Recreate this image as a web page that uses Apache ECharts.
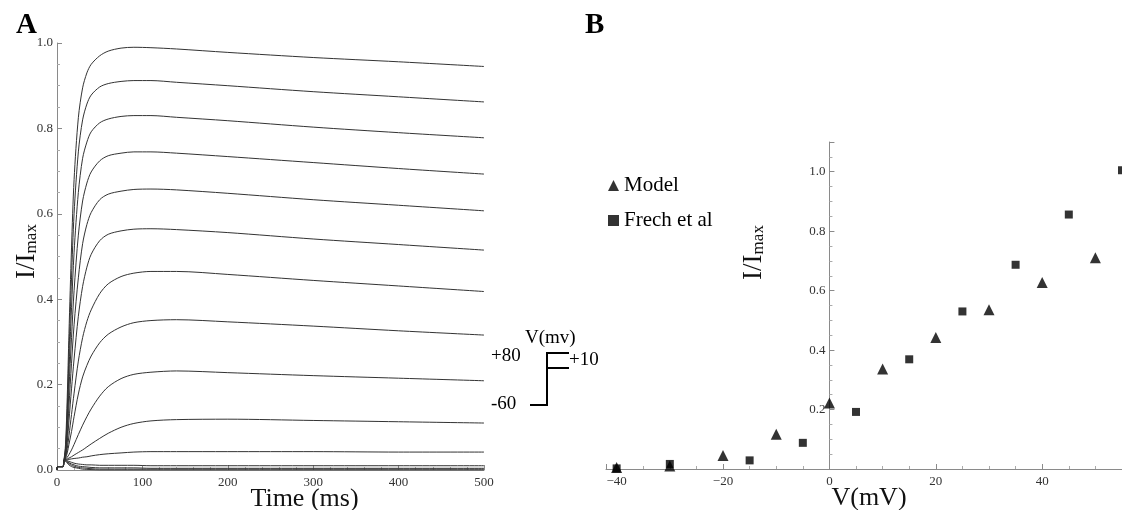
<!DOCTYPE html>
<html>
<head>
<meta charset="utf-8">
<title>Ca current traces and I–V relation</title>
<script src="https://cdn.jsdelivr.net/npm/echarts@6/dist/echarts.min.js"></script>
<style>
  html, body { margin: 0; padding: 0; background: #fff; }
  #chart { width: 1122px; height: 510px; }
</style>
</head>
<body>
<div id="chart"></div>
<script>
// ---- Panel A: normalised current traces, one per voltage step ----
const TIME_MS = [0, 1, 7, 8, 10, 12, 14, 17, 20, 25, 30, 35, 40, 50, 60, 75, 90, 110, 140, 200, 300, 400, 500];

const trace1  = [0, .008, .008, .02, .06, .17, .32, .52, .68, .825, .895, .93, .95, .97, .981, .988, .99, .989, .986, .978, .966, .956, .945];
const trace2  = [0, .008, .008, .02, .05, .14, .27, .45, .60, .745, .82, .857, .878, .897, .905, .91, .912, .912, .908, .90, .886, .874, .862];
const trace3  = [0, .008, .008, .02, .045, .12, .23, .38, .51, .65, .73, .768, .792, .813, .822, .828, .83, .83, .826, .818, .803, .79, .778];
const trace4  = [0, .008, .008, .02, .04, .10, .19, .31, .42, .55, .63, .672, .698, .724, .736, .742, .745, .745, .742, .734, .72, .706, .693];
const trace5  = [0, .008, .008, .02, .035, .08, .15, .25, .34, .45, .53, .575, .603, .633, .646, .653, .657, .658, .656, .648, .633, .62, .607];
const trace6  = [0, .008, .008, .02, .032, .065, .115, .19, .26, .36, .43, .475, .505, .537, .552, .56, .564, .565, .563, .556, .541, .528, .515];
const trace7  = [0, .008, .008, .02, .03, .05, .08, .13, .18, .255, .31, .348, .375, .413, .436, .453, .461, .465, .465, .458, .444, .431, .418];
const trace8  = [0, .008, .008, .02, .028, .04, .06, .09, .125, .178, .218, .245, .267, .298, .318, .335, .345, .35, .352, .347, .337, .326, .316];
const trace9  = [0, .008, .008, .02, .026, .03, .036, .047, .06, .083, .105, .125, .143, .173, .195, .214, .224, .229, .232, .228, .221, .215, .209];
const trace10 = [0, .008, .008, .02, .025, .026, .028, .031, .035, .041, .047, .054, .061, .074, .086, .10, .109, .115, .118, .119, .116, .113, .11];
const trace11 = [0, .008, .008, .02, .024, .024, .025, .026, .027, .028, .03, .031, .033, .036, .038, .04, .042, .043, .043, .043, .043, .042, .042];
const trace12 = [0, .008, .008, .02, .024, .022, .02, .018, .016, .014, .013, .012, .012, .011, .011, .011, .011, .01, .01, .01, .01, .01, .01];
const trace13 = [0, .008, .008, .02, .023, .02, .017, .014, .012, .009, .008, .007, .006, .005, .005, .005, .005, .004, .004, .004, .004, .004, .004];
const trace14 = [0, .008, .008, .02, .022, .018, .015, .011, .009, .006, .005, .004, .003, .002, .002, .002, .002, .002, .002, .002, .002, .002, .002];
const trace15 = [0, .008, .008, .02, .02, .016, .012, .008, .006, .004, .002, .0015, .001, 0, 0, 0, 0, 0, 0, 0, 0, 0, 0];

const TRACES = [trace1, trace2, trace3, trace4, trace5, trace6, trace7, trace8,
                trace9, trace10, trace11, trace12, trace13, trace14, trace15];

// ---- Panel B: peak current vs. test potential ----
const MODEL_V = [-40, -30, -20, -10, 0, 10, 20, 30, 40, 50];
const MODEL_I = [0.005, 0.01, 0.045, 0.117, 0.222, 0.336, 0.442, 0.536, 0.627, 0.711];
const FRECH_V = [-40, -30, -15, -5, 5, 15, 25, 35, 45, 55];
const FRECH_I = [0.002, 0.017, 0.029, 0.088, 0.192, 0.369, 0.53, 0.687, 0.856, 1.005];

const V_MIN = -42, V_MAX = 55;

const SERIF = 'Liberation Serif';
const AXIS_GREY = '#8a8a8a';

// grid boxes (pixels)
const GRID_A = { left: 57, top: 43, width: 427, height: 427 };
const GRID_B = { left: 606, top: 142, width: 516, height: 327 };

function zip(xs, ys) { return xs.map((x, i) => [x, ys[i]]); }
function signed(v) { return v < 0 ? '\u2212' + (-v) : String(v); }

function axisCommon() {
  return {
    type: 'value',
    splitLine: { show: false },
    nameMoveOverlap: false,
    axisLine: { show: true, onZero: false, lineStyle: { color: AXIS_GREY, width: 1 } },
    axisTick: { show: true, inside: true, length: 5, lineStyle: { color: AXIS_GREY } },
    minorTick: { show: true, length: 3, lineStyle: { color: '#aaa' } },
    axisLabel: { fontFamily: SERIF, fontSize: 13, color: '#333' }
  };
}

const yNameRich = {
  a: { fontFamily: SERIF, fontSize: 27, lineHeight: 30, verticalAlign: 'bottom', color: '#111' },
  b: { fontFamily: SERIF, fontSize: 17, lineHeight: 12, verticalAlign: 'bottom', color: '#111' }
};

const xA = Object.assign(axisCommon(), {
  gridIndex: 0, min: 0, max: 500, interval: 100,
  name: 'Time (ms)', nameLocation: 'middle', nameGap: 16,
  nameTextStyle: { fontFamily: SERIF, fontSize: 26, color: '#111', padding: [0, 0, 0, 68] }
});
xA.minorTick.splitNumber = 5;
xA.axisLabel.margin = 6;

const yA = Object.assign(axisCommon(), {
  gridIndex: 0, min: 0, max: 1, interval: 0.2,
  name: '{a|I/I}{b|max}', nameLocation: 'middle', nameGap: 17, nameRotate: 90,
  nameTextStyle: { rich: yNameRich, padding: [0, 0, 0, 10] }
});
yA.minorTick.splitNumber = 4;
yA.axisLabel.formatter = v => v.toFixed(1);
yA.axisLabel.margin = 4;

const xB = Object.assign(axisCommon(), {
  gridIndex: 1, min: V_MIN, max: V_MAX, splitNumber: 5,
  name: 'V(mV)', nameLocation: 'middle', nameGap: 16,
  nameTextStyle: { fontFamily: SERIF, fontSize: 26, color: '#111', padding: [0, 0, 0, 10] }
});
xB.minorTick.splitNumber = 4;
xB.axisLabel.formatter = v => (Math.abs(v % 20) < 1e-9 ? signed(v) : '');
xB.axisLabel.showMinLabel = false;
xB.axisLabel.showMaxLabel = false;
xB.axisLabel.margin = 6;

// the current axis of panel B crosses the voltage axis at 0 mV
const yB = Object.assign(axisCommon(), {
  gridIndex: 1, min: 0, max: 1.1, interval: 0.2,
  offset: -GRID_B.width * (0 - V_MIN) / (V_MAX - V_MIN),
  name: '{a|I/I}{b|max}', nameLocation: 'middle', nameGap: 62, nameRotate: 90,
  nameTextStyle: { rich: yNameRich, padding: [0, 0, 0, 106] }
});
yB.minorTick.splitNumber = 4;
yB.axisLabel.formatter = v => v.toFixed(1);
yB.axisLabel.showMinLabel = false;
yB.axisLabel.showMaxLabel = false;
yB.axisLabel.margin = 4;

const traceSeries = TRACES.map((vals, i) => ({
  name: 'trace' + (i + 1),
  type: 'line',
  xAxisIndex: 0, yAxisIndex: 0,
  data: zip(TIME_MS, vals),
  showSymbol: false,
  smooth: 0.3,
  silent: true,
  lineStyle: { color: '#333', width: 1 }
}));

const option = {
  animation: false,
  backgroundColor: '#fff',
  grid: [
    Object.assign({ containLabel: false, outerBoundsMode: 'none' }, GRID_A),
    Object.assign({ containLabel: false, outerBoundsMode: 'none' }, GRID_B)
  ],
  xAxis: [xA, xB],
  yAxis: [yA, yB],
  legend: {
    left: 603, top: 170, orient: 'vertical', itemGap: 14,
    itemWidth: 11, itemHeight: 11, selectedMode: false,
    textStyle: { fontFamily: SERIF, fontSize: 21, color: '#000' },
    data: ['Model', 'Frech et al']
  },
  series: traceSeries.concat([
    {
      name: 'Model', type: 'scatter', xAxisIndex: 1, yAxisIndex: 1,
      symbol: 'triangle', symbolSize: 11,
      itemStyle: { color: '#000' },
      data: zip(MODEL_V, MODEL_I)
    },
    {
      name: 'Frech et al', type: 'scatter', xAxisIndex: 1, yAxisIndex: 1,
      symbol: 'rect', symbolSize: 8,
      itemStyle: { color: '#000' },
      data: zip(FRECH_V, FRECH_I)
    }
  ]),
  graphic: [
    // panel letters
    { type: 'text', left: 16, top: 11, style: { text: 'A', font: 'bold 29px "Liberation Serif"', fill: '#000' } },
    { type: 'text', left: 585, top: 11, style: { text: 'B', font: 'bold 29px "Liberation Serif"', fill: '#000' } },
    // voltage-step protocol sketch
    { type: 'polyline', shape: { points: [[530, 405], [547, 405], [547, 353], [569, 353]] },
      style: { stroke: '#000', lineWidth: 2, fill: null } },
    { type: 'line', shape: { x1: 547, y1: 368, x2: 569, y2: 368 }, style: { stroke: '#000', lineWidth: 2 } },
    { type: 'text', x: 491, y: 347, style: { text: '+80', font: '19px "Liberation Serif"', fill: '#000' } },
    { type: 'text', x: 491, y: 395, style: { text: '-60', font: '19px "Liberation Serif"', fill: '#000' } },
    { type: 'text', x: 525, y: 329, style: { text: 'V(mv)', font: '19px "Liberation Serif"', fill: '#000' } },
    { type: 'text', x: 569, y: 351, style: { text: '+10', font: '19px "Liberation Serif"', fill: '#000' } }
  ]
};

const chart = echarts.init(document.getElementById('chart'), null, { renderer: 'canvas' });
chart.setOption(option);
</script>
</body>
</html>
